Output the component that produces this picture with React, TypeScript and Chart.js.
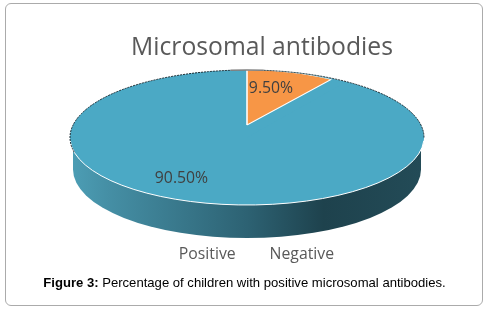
import React, { useEffect, useRef } from "react";
import { Chart, registerables } from "chart.js";

Chart.register(...registerables);

const categories = ["Positive", "Negative"];
const percentages = [90.5, 9.5];
const sliceColors = ["#4BA9C5", "#F79646"];
const valueLabels = ["90.50%", "9.50%"];
const titleText = "Microsomal antibodies";

const topEllipse = { x: 247, y: 137.5, rx: 177, ry: 67.5 };
const bottomEllipse = { x: 247, y: 169.5, rx: 174, ry: 68.5 };
const sliceShapes = [
  { x: 247, y: 137.5, rx: 177, ry: 67.5 },
  { x: 247, y: 125, rx: 149.5, ry: 55 },
];
const labelCentres = [
  { x: 181.5, y: 178 },
  { x: 271, y: 88.5 },
];
const legendShift = -9.5;

const pie3d = {
  id: "pie3d",
  afterLayout(chart: any) {
    chart.legend.left += legendShift;
    chart.legend.right += legendShift;
  },
  beforeDatasetDraw(chart: any) {
    const ctx = chart.ctx;
    const meta = chart.getDatasetMeta(0);
    ctx.save();
    const g = ctx.createLinearGradient(73, 0, 421, 0);
    g.addColorStop(0, "#4C9DB4");
    g.addColorStop(0.1, "#458FA5");
    g.addColorStop(0.5, "#2D6273");
    g.addColorStop(0.72, "#1E424D");
    g.addColorStop(1, "#234B57");
    ctx.fillStyle = g;
    ctx.beginPath();
    ctx.moveTo(topEllipse.x - topEllipse.rx + 3, topEllipse.y);
    ctx.ellipse(bottomEllipse.x, bottomEllipse.y, bottomEllipse.rx, bottomEllipse.ry, 0, Math.PI, 0, true);
    ctx.lineTo(topEllipse.x + topEllipse.rx - 3, topEllipse.y);
    ctx.closePath();
    ctx.fill();

    ctx.fillStyle = sliceColors[0];
    ctx.beginPath();
    ctx.ellipse(topEllipse.x, topEllipse.y, topEllipse.rx, topEllipse.ry, 0, 0, Math.PI * 2);
    ctx.fill();

    ctx.beginPath();
    ctx.ellipse(topEllipse.x, topEllipse.y, topEllipse.rx, topEllipse.ry, 0, 0, Math.PI * 2);
    ctx.clip();
    meta.data.forEach((arc: any, i: number) => {
      const s = sliceShapes[i];
      const R = arc.outerRadius;
      ctx.save();
      ctx.translate(s.x, s.y);
      ctx.scale(s.rx / R, s.ry / R);
      ctx.translate(-arc.x, -arc.y);
      arc.draw(ctx);
      ctx.restore();
    });
    ctx.restore();

    ctx.save();
    ctx.strokeStyle = "#FFFFFF";
    ctx.lineWidth = 1;
    ctx.beginPath();
    ctx.ellipse(topEllipse.x, topEllipse.y, topEllipse.rx, topEllipse.ry, 0, 0.05, Math.PI - 0.05);
    ctx.stroke();
    ctx.strokeStyle = "#1B2B33";
    ctx.setLineDash([2, 1]);
    ctx.beginPath();
    ctx.ellipse(topEllipse.x, topEllipse.y, topEllipse.rx, topEllipse.ry, 0, Math.PI - 0.22, Math.PI * 1.47);
    ctx.stroke();
    ctx.beginPath();
    ctx.ellipse(topEllipse.x, topEllipse.y, topEllipse.rx, topEllipse.ry, 0, Math.PI * 1.53, Math.PI * 2);
    ctx.stroke();
    ctx.setLineDash([]);
    ctx.strokeStyle = "#808080";
    ctx.lineWidth = 1.5;
    ctx.beginPath();
    ctx.ellipse(topEllipse.x, topEllipse.y, topEllipse.rx, topEllipse.ry, 0, Math.PI * 1.47, Math.PI * 1.53);
    ctx.stroke();
    ctx.restore();
    return false;
  },
  afterDraw(chart: any) {
    const ctx = chart.ctx;
    ctx.save();
    ctx.font = "15.8px 'Open Sans'";
    ctx.fillStyle = "#404040";
    ctx.textAlign = "center";
    ctx.textBaseline = "middle";
    valueLabels.forEach((t, i) => ctx.fillText(t, labelCentres[i].x, labelCentres[i].y));
    ctx.restore();
  },
};

export default function App() {
  const ref = useRef<HTMLCanvasElement>(null);
  useEffect(() => {
    const chart = new Chart(ref.current!, {
      type: "pie",
      data: {
        labels: categories,
        datasets: [
          {
            data: percentages,
            backgroundColor: sliceColors,
            borderColor: ["rgba(0,0,0,0)", "#FFFFFF"],
            borderWidth: [0, 0.8],
          },
        ],
      },
      options: {
        animation: false,
        responsive: false,
        rotation: (percentages[1] / 100) * 360,
        layout: { padding: { top: 0, bottom: 38, left: 38 } },
        plugins: {
          tooltip: { enabled: false },
          title: {
            display: true,
            text: titleText,
            color: "#595959",
            font: { family: "'Open Sans'", size: 24.7, weight: "normal" },
            padding: { top: 33, bottom: 4 },
          },
          legend: {
            position: "bottom",
            labels: {
              boxWidth: 0,
              boxHeight: 0,
              color: "#595959",
              padding: 26,
              font: { family: "'Open Sans'", size: 15.8 },
            },
          },
        },
      },
      plugins: [pie3d],
    } as any);
    return () => chart.destroy();
  }, []);
  return (
    <div style={{ position: "absolute", left: 0, top: 0, width: 486, height: 310, background: "#fff", overflow: "hidden" }}>
      <div
        style={{
          position: "absolute",
          left: 5,
          top: 3,
          width: 476,
          height: 301,
          border: "1px solid #ABABAB",
          borderRadius: 6,
        }}
      />
      <canvas ref={ref} width={486} height={310} style={{ position: "absolute", left: 0, top: 0 }} />
      <div
        style={{
          position: "absolute",
          left: 0,
          top: 275,
          width: 486,
          paddingLeft: 3,
          boxSizing: "border-box",
          textAlign: "center",
          font: "13.1px 'Liberation Sans', Arial, sans-serif",
          color: "#000",
          whiteSpace: "nowrap",
        }}
      >
        <b>Figure 3:</b> Percentage of children with positive microsomal antibodies.
      </div>
    </div>
  );
}
